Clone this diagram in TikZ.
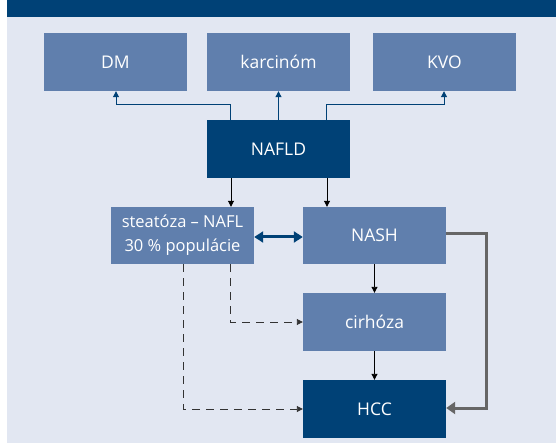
\documentclass[tikz,border=0pt]{standalone}
\usepackage{fontspec}
\setmainfont{Open Sans}
\usetikzlibrary{arrows.meta}
\definecolor{darkb}{HTML}{004176}
\definecolor{medb}{HTML}{607FAD}
\definecolor{bgc}{HTML}{E2E7F2}
\definecolor{grayl}{HTML}{666666}
\definecolor{dashc}{HTML}{333333}
\tikzset{
  box/.style={fill=medb, text=white, minimum width=143pt, minimum height=58pt, inner sep=0pt, align=center, font=\fontsize{17.5}{24}\selectfont},
  darkbox/.style={box, fill=darkb},
  upline/.style={draw=darkb, line width=1pt, -{Triangle[length=6pt,width=6pt]}},
  downline/.style={draw=black, line width=0.9pt, -{Triangle[length=6pt,width=6pt]}},
  dashline/.style={draw=dashc, line width=0.9pt, dash pattern=on 8pt off 6pt, -{Triangle[length=6pt,width=6pt]}},
  grayline/.style={draw=grayl, line width=3pt, -{Triangle[length=9pt,width=12pt]}},
  dbl/.style={draw=darkb, line width=3pt, {Triangle[length=9pt,width=11pt]}-{Triangle[length=9pt,width=11pt]}}
}
\begin{document}
\begin{tikzpicture}[x=1pt,y=-1pt]
\useasboundingbox (0,0) rectangle (556,443);
\fill[white] (0,0) rectangle (556,443);
\fill[bgc] (7,0) rectangle (556,443);
\fill[darkb] (7,0) rectangle (556,17);
\node[box] (dm) at (115.5,62) {DM};
\node[box] (ka) at (278.5,62) {karcinóm};
\node[box] (kvo) at (444.5,62) {KVO};
\node[darkbox] (nafld) at (278.5,149) {NAFLD};
\node[box, minimum height=57pt, font=\fontsize{16.5}{24}\selectfont] (st) at (182.5,235.5) {steatóza – NAFL\\30 \% populácie};
\node[box, minimum height=57pt] (nash) at (374.5,235.5) {NASH};
\node[box] (cir) at (374.5,322) {cirhóza};
\node[darkbox] (hcc) at (374.5,409) {HCC};
\coordinate (c1) at (116,105);
\coordinate (c2) at (444,105);
\coordinate (g1) at (486,234);
\coordinate (g2) at (486,408);
\coordinate (d1) at (230,322);
\coordinate (d2) at (183,409);
% upward
\draw[upline] (nafld.north -| 230,0) -- (230,105) -- (c1) -- (dm.south -| c1);
\draw[upline] (nafld.north) -- (ka.south);
\draw[upline] (nafld.north -| 326,0) -- (326,105) -- (c2) -- (kvo.south -| c2);
% downward
\draw[downline] (nafld.south -| 231,0) -- (st.north -| 231,0);
\draw[downline] (nafld.south -| 327,0) -- (nash.north -| 327,0);
\draw[dbl] (st.east |- 0,237) -- (nash.west |- 0,237);
\draw[downline] (nash.south) -- (cir.north);
\draw[downline] (cir.south) -- (hcc.north);
\draw[grayline] (nash.east |- g1) -- (g1) -- (g2) -- (hcc.east |- g2);
\draw[dashline] (st.south -| d1) -- (d1) -- (cir.west |- d1);
\draw[dashline] (st.south -| d2) -- (d2) -- (hcc.west |- d2);
\end{tikzpicture}
\end{document}
